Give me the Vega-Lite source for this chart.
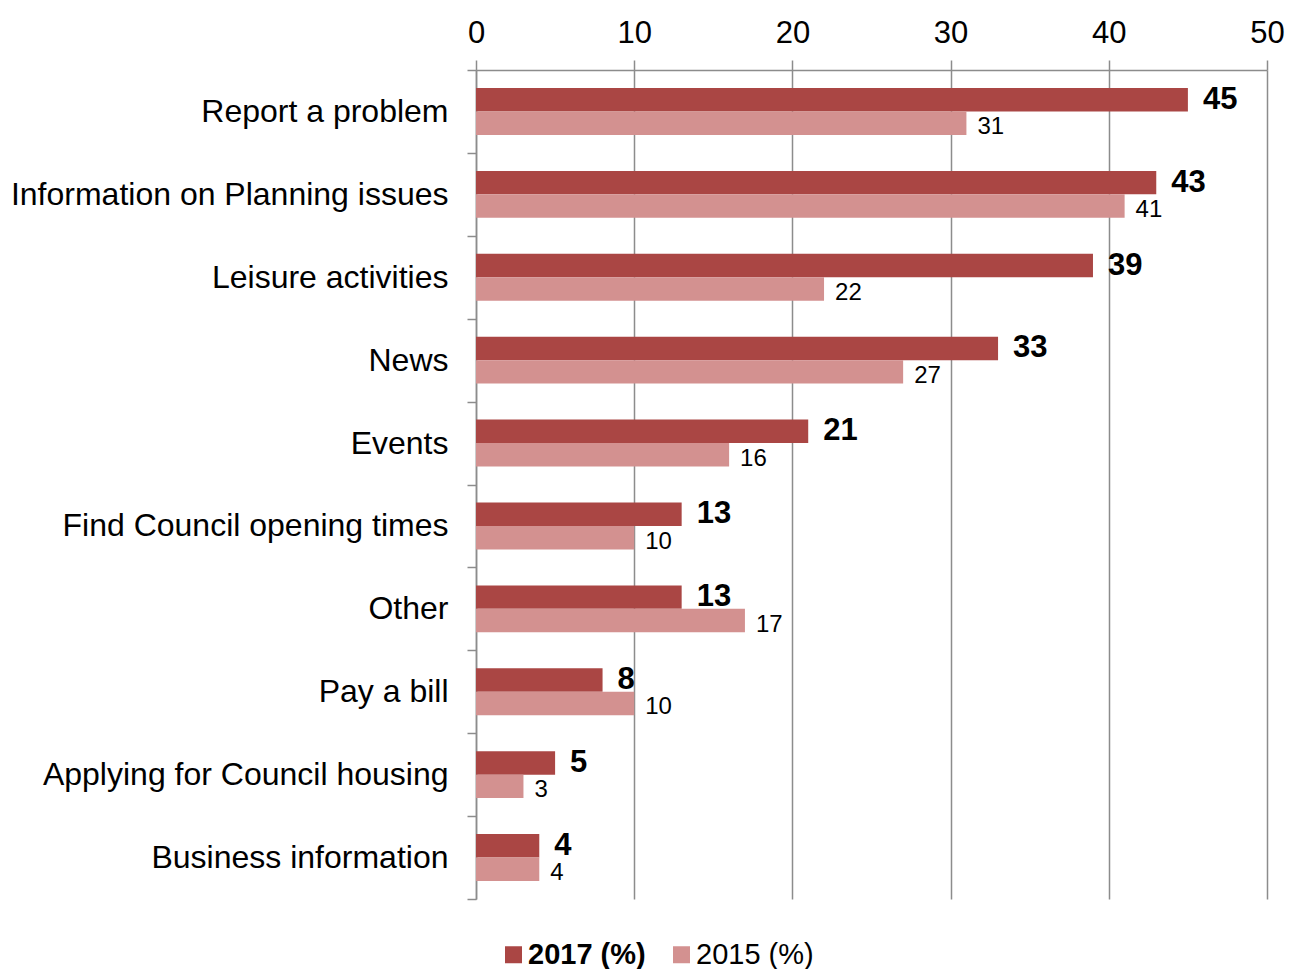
{
  "$schema": "https://vega.github.io/schema/vega-lite/v6.json",
  "width": 791,
  "height": 829,
  "autosize": {"type": "none"},
  "padding": {"left": 476, "top": 70, "right": 23, "bottom": 70},
  "background": "white",
  "config": {"font": "Liberation Sans", "view": {"stroke": null}},
  "data": {
    "values": [
      {"category": "Report a problem", "series": "2017 (%)", "value": 45},
      {"category": "Report a problem", "series": "2015 (%)", "value": 31},
      {"category": "Information on Planning issues", "series": "2017 (%)", "value": 43},
      {"category": "Information on Planning issues", "series": "2015 (%)", "value": 41},
      {"category": "Leisure activities", "series": "2017 (%)", "value": 39},
      {"category": "Leisure activities", "series": "2015 (%)", "value": 22},
      {"category": "News", "series": "2017 (%)", "value": 33},
      {"category": "News", "series": "2015 (%)", "value": 27},
      {"category": "Events", "series": "2017 (%)", "value": 21},
      {"category": "Events", "series": "2015 (%)", "value": 16},
      {"category": "Find Council opening times", "series": "2017 (%)", "value": 13},
      {"category": "Find Council opening times", "series": "2015 (%)", "value": 10},
      {"category": "Other", "series": "2017 (%)", "value": 13},
      {"category": "Other", "series": "2015 (%)", "value": 17},
      {"category": "Pay a bill", "series": "2017 (%)", "value": 8},
      {"category": "Pay a bill", "series": "2015 (%)", "value": 10},
      {"category": "Applying for Council housing", "series": "2017 (%)", "value": 5},
      {"category": "Applying for Council housing", "series": "2015 (%)", "value": 3},
      {"category": "Business information", "series": "2017 (%)", "value": 4},
      {"category": "Business information", "series": "2015 (%)", "value": 4}
    ]
  },
  "encoding": {
    "y": {
      "field": "category",
      "type": "nominal",
      "sort": ["Report a problem", "Information on Planning issues", "Leisure activities", "News", "Events", "Find Council opening times", "Other", "Pay a bill", "Applying for Council housing", "Business information"],
      "scale": {"paddingInner": 0, "paddingOuter": 0},
      "axis": {
        "title": null,
        "tickBand": "extent",
        "tickSize": 9,
        "tickColor": "#8c8c8c",
        "tickWidth": 1.5,
        "domainColor": "#8c8c8c",
        "domainWidth": 1.5,
        "labelFontSize": 32,
        "labelColor": "black",
        "labelPadding": 19,
        "labelLimit": 700,
        "grid": false
      }
    },
    "yOffset": {
      "field": "series",
      "type": "nominal",
      "sort": ["2017 (%)", "2015 (%)"],
      "scale": {"paddingOuter": 0.766, "paddingInner": 0}
    },
    "x": {
      "field": "value",
      "type": "quantitative",
      "scale": {"domain": [0, 50]},
      "axis": {
        "orient": "top",
        "title": null,
        "values": [0, 10, 20, 30, 40, 50],
        "labelFlush": false,
        "grid": true,
        "gridColor": "#8c8c8c",
        "gridWidth": 1.5,
        "tickSize": 10,
        "tickColor": "#8c8c8c",
        "tickWidth": 1.5,
        "domainColor": "#8c8c8c",
        "domainWidth": 1.5,
        "labelFontSize": 31,
        "labelColor": "black",
        "labelPadding": 11
      }
    }
  },
  "layer": [
    {
      "mark": {"type": "bar"},
      "encoding": {
        "color": {
          "field": "series",
          "type": "nominal",
          "scale": {"domain": ["2017 (%)", "2015 (%)"], "range": ["#AA4644", "#D39190"]},
          "legend": {
            "orient": "none",
            "legendX": 23,
            "legendY": 870,
            "direction": "horizontal",
            "title": null,
            "symbolType": "square",
            "symbolSize": 289,
            "symbolStrokeWidth": 0,
            "labelFontSize": 29,
            "labelColor": "black",
            "labelOffset": 0,
            "columnPadding": 21,
            "encode": {
              "labels": {
                "update": {
                  "fontWeight": {"signal": "datum.value === '2017 (%)' ? 'bold' : 'normal'"}
                }
              }
            }
          }
        }
      }
    },
    {
      "transform": [{"filter": "datum.series === '2017 (%)'"}],
      "mark": {"type": "text", "align": "left", "baseline": "middle", "dx": 15, "dy": 0, "fontSize": 31, "fontWeight": "bold", "color": "black"},
      "encoding": {"text": {"field": "value", "type": "quantitative"}}
    },
    {
      "transform": [{"filter": "datum.series === '2015 (%)'"}],
      "mark": {"type": "text", "align": "left", "baseline": "middle", "dx": 11, "dy": 4, "fontSize": 24, "color": "black"},
      "encoding": {"text": {"field": "value", "type": "quantitative"}}
    }
  ]
}
